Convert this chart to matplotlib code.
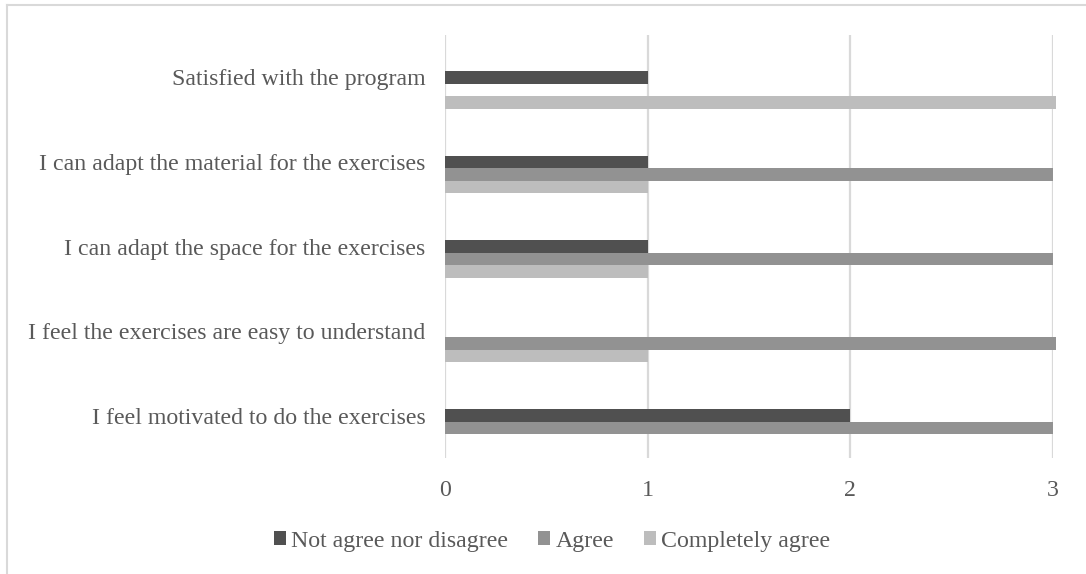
import matplotlib
matplotlib.use("Agg")
import matplotlib.pyplot as plt
from matplotlib.lines import Line2D
from matplotlib.patches import Patch

categories = [
    "I feel motivated to do the exercises",
    "I feel the exercises are easy to understand",
    "I can adapt the space for the exercises",
    "I can adapt the material for the exercises",
    "Satisfied with the program",
]
series_names = ["Not agree nor disagree", "Agree", "Completely agree"]
not_agree = [2, 0, 1, 1, 1]
agree = [3, 3.015, 3, 3, 0]
completely = [0, 1, 1, 1, 3.015]
x_ticks = [0, 1, 2, 3]

colors = ["#505050", "#929292", "#bdbdbd"]
text_color = "#595959"
grid_color = "#d9d9d9"

plt.rcParams["font.family"] = ["Liberation Serif", "DejaVu Serif"]

W, H = 1086, 574
fs = 17.2
fig = plt.figure(figsize=(W / 100, H / 100), dpi=100)
ax = fig.add_axes([445 / W, 1 - 458 / H, (1053 - 445) / W, (458 - 35) / H])

bh = 0.148
ys = list(range(len(categories)))
for i, (vals, c) in enumerate(zip([not_agree, agree, completely], colors)):
    pos = [y - i * bh for y in ys]
    ax.barh(pos, vals, height=bh, color=c, edgecolor="none", zorder=3, clip_on=False)

ax.set_xlim(0, 3)
ax.set_ylim(-0.5, len(categories) - 0.5)
ax.set_xticks(x_ticks)
ax.set_xticklabels([str(t) for t in x_ticks])
ax.set_yticks(ys)
ax.set_yticklabels(categories)
ax.tick_params(axis="both", length=0, labelsize=fs, colors=text_color)
ax.tick_params(axis="y", pad=14)
ax.tick_params(axis="x", pad=16)
ax.xaxis.grid(True, color=grid_color, linewidth=1.6, zorder=0)
ax.yaxis.grid(False)
for s in ax.spines.values():
    s.set_visible(False)

handles = [Patch(facecolor=c, edgecolor="none") for c in colors]
leg = fig.legend(handles, series_names, loc="center", bbox_to_anchor=(552 / W, 1 - 541 / H),
                 ncol=3, frameon=False, fontsize=fs, handlelength=0.5, handleheight=0.5,
                 handletextpad=0.22, columnspacing=1.25, labelcolor=text_color)

# outer chart border (top and left visible)
fig.add_artist(Line2D([7 / W, 1], [1 - 5 / H, 1 - 5 / H], color=grid_color, linewidth=1.5))
fig.add_artist(Line2D([7 / W, 7 / W], [0, 1 - 5 / H], color=grid_color, linewidth=1.5))

fig.savefig("out.png", dpi=100)
